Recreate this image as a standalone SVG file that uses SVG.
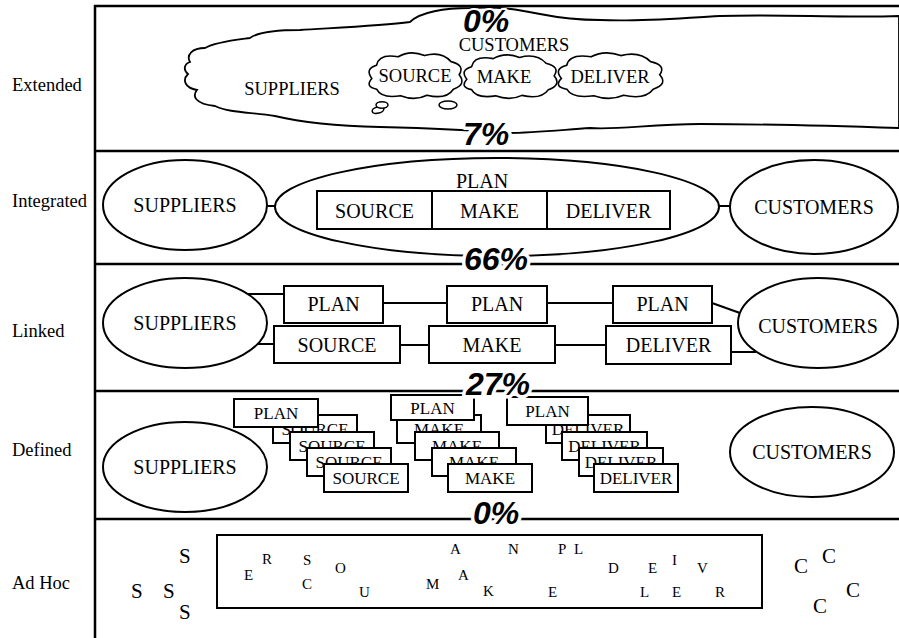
<svg xmlns="http://www.w3.org/2000/svg" xmlns:xlink="http://www.w3.org/1999/xlink" width="899" height="638" viewBox="0 0 899 638">
<style>
.t{font-family:"Liberation Serif","Times New Roman",serif;fill:#000}
.lab{font-size:18.5px}
.n{font-size:20px;text-anchor:middle}
.s{font-size:17px;text-anchor:middle}
.l{font-size:15px}
.big{font-size:21px}
.pct{font-family:"Liberation Sans",Arial,sans-serif;font-weight:bold;font-style:italic;font-size:32px;text-anchor:middle;fill:#000;stroke:#fff;stroke-width:7;paint-order:stroke;stroke-linejoin:round}
.sh{fill:#fff;stroke:#000;stroke-width:2}
.ln{stroke:#000;stroke-width:2;fill:none}
.frame{stroke:#000;stroke-width:2.5;fill:none}
</style>
<defs>
<path id="cl" d="M -0.9,0.1 Q -1.05,-0.3 -0.8,-0.45 Q -0.75,-0.95 -0.35,-0.8 Q -0.1,-1.1 0.2,-0.85 Q 0.55,-1.05 0.75,-0.6 Q 1.05,-0.45 0.92,-0.05 Q 1.08,0.35 0.8,0.55 Q 0.65,1.0 0.25,0.8 Q 0,1.05 -0.3,0.82 Q -0.7,0.95 -0.8,0.55 Q -1.05,0.45 -0.9,0.1 Z" fill="#fff" stroke="#000" stroke-width="1.6" vector-effect="non-scaling-stroke"/>
</defs>
<rect width="899" height="638" fill="#fff"/>

<g id="frame">
<line class="frame" x1="95" y1="5" x2="95" y2="638"/>
<line class="frame" x1="94" y1="6" x2="899" y2="6"/>
<line class="frame" x1="94" y1="151" x2="899" y2="151"/>
<line class="frame" x1="94" y1="264" x2="899" y2="264"/>
<line class="frame" x1="94" y1="391" x2="899" y2="391"/>
<line class="frame" x1="94" y1="519" x2="899" y2="519"/>
</g>

<g id="labels" class="t lab">
<text x="12" y="91">Extended</text>
<text x="12" y="207">Integrated</text>
<text x="12" y="337">Linked</text>
<text x="12" y="456">Defined</text>
<text x="12" y="589">Ad Hoc</text>
</g>

<g id="connectors">
<line class="ln" x1="267" y1="206" x2="276" y2="206"/>
<line class="ln" x1="718" y1="206" x2="731" y2="206"/>
<line class="ln" x1="248" y1="294" x2="284" y2="294"/>
<line class="ln" x1="258" y1="344" x2="274" y2="344"/>
<line class="ln" x1="383" y1="303" x2="447" y2="303"/>
<line class="ln" x1="400" y1="345" x2="429" y2="345"/>
<line class="ln" x1="547" y1="303" x2="613" y2="303"/>
<line class="ln" x1="555" y1="345" x2="606" y2="345"/>
<line class="ln" x1="712" y1="303" x2="740" y2="313"/>
<line class="ln" x1="731" y1="352" x2="756" y2="352"/>
</g>

<g id="extended">
<path id="ext-cloud" d="M 190,62 C 186,55 192,48 205,48 C 215,42 235,40 250,38 C 258,32 280,30 300,30 C 330,28 380,26 410,22 C 420,12 445,8 470,8 C 500,6 520,10 540,14 C 560,18 585,20 600,20 C 640,22 680,18 720,16 C 780,14 840,18 899,16 L 899,128 C 840,126 760,124 700,124 C 650,124 620,130 590,128 C 560,130 530,133 505,133 C 470,130 420,128 380,127 C 340,126 300,122 275,116 C 250,112 230,113 215,106 C 195,104 192,96 197,90 C 185,88 182,80 188,74 C 183,70 184,64 190,62 Z" fill="#fff" stroke="#000" stroke-width="1.8"/>
<text class="t n" x="292" y="95" style="font-size:18.5px">SUPPLIERS</text>
<text class="t n" x="514" y="51" style="font-size:18.5px">CUSTOMERS</text>
<g id="ext-source"><use xlink:href="#cl" transform="translate(415,76) scale(48,24)"/><text class="t n" x="415" y="82" style="font-size:18.5px">SOURCE</text></g>
<g id="ext-make"><use xlink:href="#cl" transform="translate(510,77) scale(48,23)"/><text class="t n" x="504" y="83" style="font-size:18.5px">MAKE</text></g>
<g id="ext-deliver"><use xlink:href="#cl" transform="translate(610,76) scale(54,24)"/><text class="t n" x="610" y="83" style="font-size:18.5px">DELIVER</text></g>
<ellipse cx="378" cy="110" rx="6" ry="3.2" transform="rotate(-15 378 110)" fill="#fff" stroke="#000" stroke-width="1.5"/>
<ellipse cx="382" cy="105" rx="6" ry="3.2" fill="#fff" stroke="#000" stroke-width="1.5"/>
<ellipse cx="448" cy="105" rx="9" ry="4" fill="#fff" stroke="#000" stroke-width="1.5"/>
</g>

<g id="integrated">
<g id="int-suppliers"><ellipse class="sh" cx="185" cy="205" rx="82" ry="45"/><text class="t n" x="185" y="212">SUPPLIERS</text></g>
<g id="int-core"><ellipse class="sh" cx="497" cy="207" rx="222" ry="49"/>
<text class="t n" x="482" y="188">PLAN</text>
<rect class="sh" x="317" y="191" width="115" height="38"/><text class="t n" x="374.5" y="218">SOURCE</text>
<rect class="sh" x="432" y="191" width="115" height="38"/><text class="t n" x="489.5" y="218">MAKE</text>
<rect class="sh" x="547" y="191" width="123" height="38"/><text class="t n" x="608.5" y="218">DELIVER</text>
</g>
<g id="int-customers"><ellipse class="sh" cx="814" cy="207" rx="84" ry="47"/><text class="t n" x="814" y="214">CUSTOMERS</text></g>
</g>

<g id="linked">
<g id="lk-suppliers"><ellipse class="sh" cx="185" cy="323" rx="82" ry="45"/><text class="t n" x="185" y="330">SUPPLIERS</text></g>
<g id="lk-plan1"><rect class="sh" x="284" y="286" width="99" height="37"/><text class="t n" x="333.5" y="311">PLAN</text></g>
<g id="lk-source"><rect class="sh" x="274" y="326" width="126" height="37"/><text class="t n" x="337" y="352">SOURCE</text></g>
<g id="lk-plan2"><rect class="sh" x="447" y="286" width="100" height="37"/><text class="t n" x="497" y="311">PLAN</text></g>
<g id="lk-make"><rect class="sh" x="429" y="326" width="126" height="37"/><text class="t n" x="492" y="352">MAKE</text></g>
<g id="lk-plan3"><rect class="sh" x="613" y="286" width="99" height="37"/><text class="t n" x="662.5" y="311">PLAN</text></g>
<g id="lk-deliver"><rect class="sh" x="606" y="326" width="125" height="38"/><text class="t n" x="668.5" y="352">DELIVER</text></g>
<g id="lk-customers"><ellipse class="sh" cx="818" cy="323" rx="80" ry="45"/><text class="t n" x="818" y="333">CUSTOMERS</text></g>
</g>

<g id="defined">
<g id="df-suppliers"><ellipse class="sh" cx="185" cy="467" rx="82" ry="45"/><text class="t n" x="185" y="474">SUPPLIERS</text></g>
<g id="df-customers"><ellipse class="sh" cx="812" cy="452" rx="82" ry="45"/><text class="t n" x="812" y="459">CUSTOMERS</text></g>
<g id="df-source">
<rect class="sh" x="273" y="415" width="84" height="28"/><text class="t s" x="315" y="435">SOURCE</text>
<rect class="sh" x="290" y="432" width="84" height="28"/><text class="t s" x="332" y="452">SOURCE</text>
<rect class="sh" x="307" y="448" width="84" height="28"/><text class="t s" x="349" y="468">SOURCE</text>
<rect class="sh" x="324" y="464" width="84" height="28"/><text class="t s" x="366" y="484">SOURCE</text>
<rect class="sh" x="234" y="399" width="84" height="28"/><text class="t s" x="276" y="419">PLAN</text>
</g>
<g id="df-make">
<rect class="sh" x="397" y="415" width="84" height="28"/><text class="t s" x="439" y="435">MAKE</text>
<rect class="sh" x="415" y="432" width="84" height="28"/><text class="t s" x="457" y="452">MAKE</text>
<rect class="sh" x="432" y="448" width="84" height="28"/><text class="t s" x="474" y="468">MAKE</text>
<rect class="sh" x="448" y="464" width="84" height="28"/><text class="t s" x="490" y="484">MAKE</text>
<rect class="sh" x="391" y="395" width="83" height="25"/><text class="t s" x="432.5" y="414">PLAN</text>
</g>
<g id="df-deliver">
<rect class="sh" x="546" y="415" width="84" height="28"/><text class="t s" x="588" y="435">DELIVER</text>
<rect class="sh" x="562" y="432" width="85" height="28"/><text class="t s" x="604.5" y="452">DELIVER</text>
<rect class="sh" x="579" y="448" width="84" height="28"/><text class="t s" x="621" y="468">DELIVER</text>
<rect class="sh" x="594" y="464" width="84" height="28"/><text class="t s" x="636" y="484">DELIVER</text>
<rect class="sh" x="507" y="397" width="81" height="28"/><text class="t s" x="547.5" y="417">PLAN</text>
</g>
</g>

<g id="adhoc">
<rect class="sh" x="217" y="535" width="545" height="73"/>
<g class="t l">
<text x="244" y="580">E</text>
<text x="262" y="564">R</text>
<text x="303" y="565">S</text>
<text x="302" y="589">C</text>
<text x="335" y="573">O</text>
<text x="359" y="597">U</text>
<text x="426" y="589">M</text>
<text x="450" y="554">A</text>
<text x="458" y="580">A</text>
<text x="483" y="596">K</text>
<text x="508" y="554">N</text>
<text x="558" y="554">P</text>
<text x="574" y="554">L</text>
<text x="548" y="597">E</text>
<text x="608" y="573">D</text>
<text x="648" y="573">E</text>
<text x="672" y="565">I</text>
<text x="697" y="573">V</text>
<text x="640" y="597">L</text>
<text x="672" y="597">E</text>
<text x="715" y="597">R</text>
</g>
<g class="t big">
<text x="179" y="563">S</text>
<text x="131" y="598">S</text>
<text x="163" y="598">S</text>
<text x="179" y="619">S</text>
<text x="794" y="573">C</text>
<text x="822" y="563">C</text>
<text x="846" y="597">C</text>
<text x="813" y="613">C</text>
</g>
</g>

<g id="percentages">
<text class="pct" x="486" y="32" style="stroke-width:4">0%</text>
<text class="pct" x="486" y="145">7%</text>
<text class="pct" x="496" y="270">66%</text>
<text class="pct" x="498" y="395">27%</text>
<text class="pct" x="496" y="524">0%</text>
</g>
</svg>
